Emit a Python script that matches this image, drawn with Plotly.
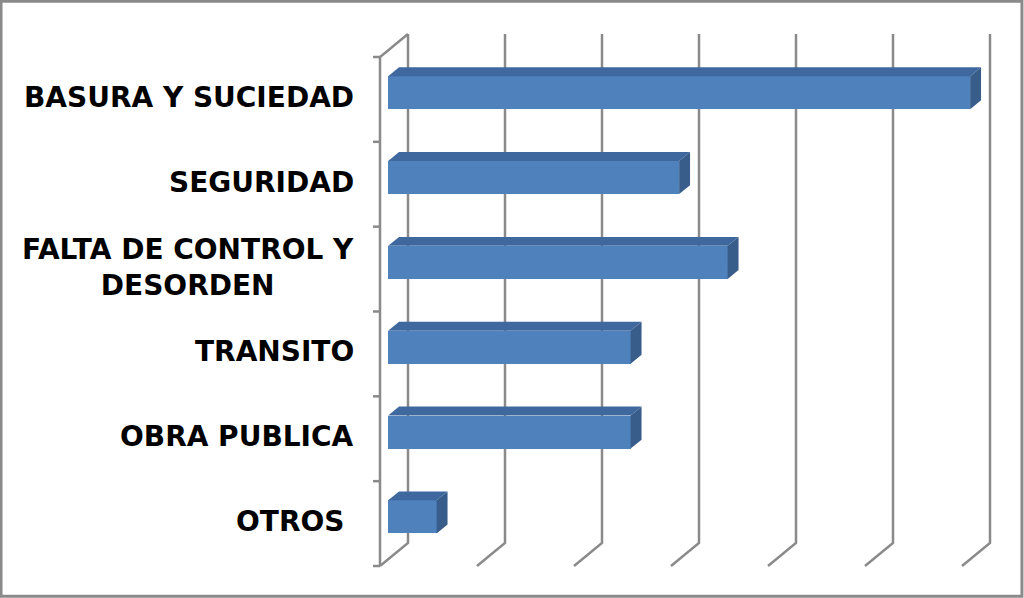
import plotly.graph_objects as go

# ---- data ----
categories = ["BASURA Y SUCIEDAD", "SEGURIDAD", "FALTA DE CONTROL Y<br>DESORDEN",
              "TRANSITO", "OBRA PUBLICA", "OTROS\u00a0"]
values = [12, 6, 7, 5, 5, 1]
grid_ticks = [0, 2, 4, 6, 8, 10, 12]

# ---- layout constants (pixel mapping / 3D look) ----
W, H = 1024, 598
PX_X = 48.5            # px per x unit
X0 = 380               # px of x=0 on the front plane
PX_Y = 509 / 6         # px per category
Y0 = 566               # px of y=0 on the front plane
DX = 28 / PX_X         # depth offset in x units
DY = 23 / PX_Y         # depth offset in y units
F1, F2 = 0.29, 0.68    # bar depth start/end fractions
HALF = 0.195           # half bar thickness (category units)
GRID = "#8a8a8a"
FRONT, TOP, SIDE = "#4F81BD", "#3F689E", "#385D8A"

n = len(categories)
centers = [n - 0.5 - i for i in range(n)]

fig = go.Figure()

# front faces of the bars
fig.add_trace(go.Bar(
    orientation="h",
    y=[c + F1 * DY for c in centers],
    x=values,
    base=[F1 * DX] * n,
    width=2 * HALF,
    marker=dict(color=FRONT, line=dict(width=0)),
    hoverinfo="skip",
    showlegend=False,
))

shapes = []
# slanted gridlines (floor diagonal + back vertical)
for v in grid_ticks:
    shapes.append(dict(type="path", xref="x", yref="y", layer="below",
                       path=f"M {v},{0} L {v+DX},{DY} L {v+DX},{n+DY}",
                       line=dict(color=GRID, width=2.5)))
# left wall front edge and its top diagonal
shapes.append(dict(type="path", xref="x", yref="y", layer="below",
                   path=f"M 0,0 L 0,{n} L {DX},{n+DY}",
                   line=dict(color=GRID, width=2.5)))
# category tick marks on the left axis
for k in range(n + 1):
    shapes.append(dict(type="line", xref="x", yref="y", layer="below",
                       x0=-7 / PX_X, x1=0, y0=k, y1=k,
                       line=dict(color=GRID, width=2.5)))
# 3D top and side faces of bars
for c, v in zip(centers, values):
    xa, xb = F1 * DX, F2 * DX
    ya, yb = F1 * DY, F2 * DY
    top = (f"M {xa},{c+HALF+ya} L {v+xa},{c+HALF+ya} "
           f"L {v+xb},{c+HALF+yb} L {xb},{c+HALF+yb} Z")
    side = (f"M {v+xa},{c-HALF+ya} L {v+xa},{c+HALF+ya} "
            f"L {v+xb},{c+HALF+yb} L {v+xb},{c-HALF+yb} Z")
    shapes.append(dict(type="path", xref="x", yref="y", layer="above",
                       path=top, fillcolor=TOP, line=dict(width=0)))
    shapes.append(dict(type="path", xref="x", yref="y", layer="above",
                       path=side, fillcolor=SIDE, line=dict(width=0)))
# outer frame
shapes.append(dict(type="rect", xref="paper", yref="paper",
                   x0=0.001, x1=0.998, y0=0.003, y1=0.998,
                   line=dict(color="#8a8a8a", width=3)))

annotations = []
for c, lab in zip(centers, categories):
    annotations.append(dict(
        xref="paper", yref="y", x=356 / W, y=c, yshift=2,
        xanchor="right", yanchor="middle", align="center",
        text=lab, showarrow=False,
        font=dict(family="DejaVu Sans", size=28, color="#000000", weight="bold"),
    ))

fig.update_layout(
    width=W, height=H,
    margin=dict(l=0, r=0, t=0, b=0),
    paper_bgcolor="white", plot_bgcolor="white",
    xaxis=dict(range=[-X0 / PX_X, (W - X0) / PX_X], visible=False, fixedrange=True),
    yaxis=dict(range=[-(H - Y0) / PX_Y, Y0 / PX_Y], visible=False, fixedrange=True),
    shapes=shapes,
    annotations=annotations,
    bargap=0,
)

fig.write_html("out.html", config={"displayModeBar": False},
               post_script="document.body.style.margin='0';")
